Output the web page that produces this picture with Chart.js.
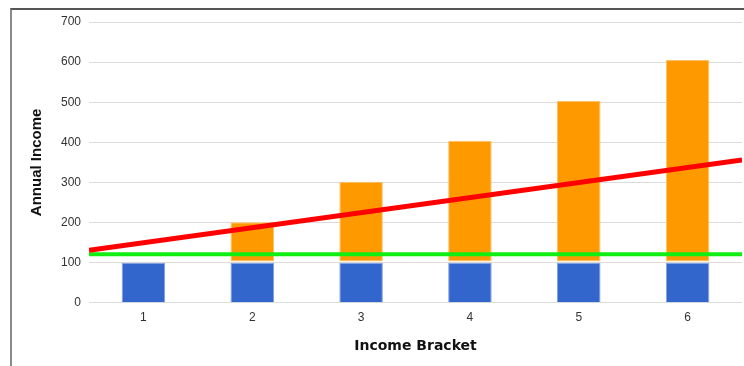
<!DOCTYPE html>
<html>
<head>
<meta charset="utf-8">
<script src="https://cdn.jsdelivr.net/npm/chart.js@4/dist/chart.umd.min.js"></script>
<style>
  html, body { margin: 0; padding: 0; background: #fff; }
  body { width: 744px; height: 366px; position: relative; overflow: hidden; }
  .frame {
    position: absolute; left: 10px; top: 8px; width: 800px; height: 400px;
    border-left: 2px solid #8a8a8a; border-top: 2px solid #555;
  }
  #wrap { position: absolute; left: 0; top: 0; width: 744px; height: 366px; }
</style>
</head>
<body>
<div class="frame"></div>
<div id="wrap"><canvas id="chart"></canvas></div>
<script>
// income brackets, blue base part and the orange part drawn above it
const brackets = ['1', '2', '3', '4', '5', '6'];
const baseIncome = [100, 100, 100, 100, 100, 100];
const extraFrom = [null, 103, 103, 103, 103, 103];
const extraTo = [null, 201, 302, 404, 503, 605];

// straight lines across the plot, endpoints on a hidden linear axis
const lineX = [-0.5, 5.5];
const trendIncome = [131, 356];
const thresholdIncome = [121, 121];

const yTicks = [0, 100, 200, 300, 400, 500, 600, 700];

const toPoints = (xs, ys) => xs.map((x, i) => ({ x: x, y: ys[i] }));
const extraBars = extraFrom.map((v, i) => (v === null ? null : [v, extraTo[i]]));

const tickColor = '#333';
const gridColor = '#dcdcdc';

new Chart(document.getElementById('chart'), {
    data: {
        labels: brackets,
        datasets: [
            {
                type: 'line',
                label: 'Trend',
                data: toPoints(lineX, trendIncome),
                xAxisID: 'x2',
                borderColor: '#ff0000',
                borderWidth: 5,
                pointRadius: 0,
                order: 0
            },
            {
                type: 'line',
                label: 'Threshold',
                data: toPoints(lineX, thresholdIncome),
                xAxisID: 'x2',
                borderColor: '#11ee11',
                borderWidth: 4,
                pointRadius: 0,
                order: 0
            },
            {
                type: 'bar',
                label: 'Base',
                data: baseIncome,
                xAxisID: 'x',
                grouped: false,
                backgroundColor: '#3366cc',
                borderColor: '#7f9fe0',
                borderWidth: 1,
                order: 1
            },
            {
                type: 'bar',
                label: 'Extra',
                data: extraBars,
                xAxisID: 'x',
                grouped: false,
                backgroundColor: '#ff9900',
                borderColor: '#ffc266',
                borderWidth: 1,
                borderSkipped: false,
                order: 1
            }
        ]
    },
    options: {
        responsive: true,
        maintainAspectRatio: false,
        animation: false,
        layout: { padding: { left: 28, right: 2, top: 22, bottom: 11 } },
        datasets: { bar: { barPercentage: 0.4, categoryPercentage: 1.0 } },
        plugins: {
            legend: { display: false },
            tooltip: { enabled: false }
        },
        scales: {
            x: {
                type: 'category',
                grid: { display: false },
                border: { display: false },
                ticks: { color: tickColor, font: { family: 'Liberation Sans', size: 12 }, padding: 0 },
                title: {
                    display: true,
                    text: 'Income Bracket',
                    color: '#111',
                    font: { family: 'DejaVu Sans', size: 14, weight: 'bold' },
                    padding: { top: 13, bottom: 0 }
                }
            },
            x2: {
                type: 'linear',
                display: false,
                min: -0.5,
                max: 5.5
            },
            y: {
                min: 0,
                max: 700,
                afterBuildTicks: axis => { axis.ticks = yTicks.map(v => ({ value: v })); },
                grid: { color: gridColor, lineWidth: 1, drawTicks: false },
                border: { display: false },
                ticks: { color: tickColor, font: { family: 'Liberation Sans', size: 12 }, padding: 8 },
                title: {
                    display: true,
                    text: 'Annual Income',
                    color: '#111',
                    font: { family: 'Liberation Sans', size: 15, weight: 'bold' },
                    padding: { top: 0, bottom: 7 }
                }
            }
        }
    }
});
</script>
</body>
</html>
